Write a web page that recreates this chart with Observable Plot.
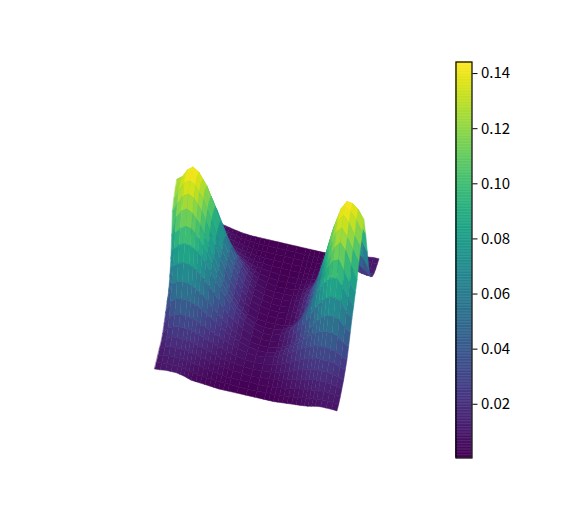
<!DOCTYPE html>
<html><head><meta charset="utf-8">
<style>html,body{margin:0;padding:0;background:#fff}#c{position:relative;width:581px;height:514px}#c svg{position:absolute;left:0;top:0;background:transparent}</style>
<script src="https://cdn.jsdelivr.net/npm/d3@7"></script>
<script src="https://cdn.jsdelivr.net/npm/@observablehq/plot@0.6"></script>
</head><body><div id="c"></div>
<script>
const sGrid=[0,.03,.06,.09,.12,.14,.16,.18,.2,.225,.25,.275,.3,.325,.35,.375,.4,.45,.5,.55,.6,.625,.65,.675,.7,.725,.75,.775,.8,.82,.84,.86,.88,.91,.94,.97,1];
const tGrid=[0,.04,.08,.12,.16,.2,.24,.28,.32,.36,.4,.44,.48,.52,.56,.6,.64,.68,.72,.76,.8,.84,.88,.92,.96,1];
const zRows=[
[.0075,.008,.009,.009,.009,.008,.007,.0055,.004,.0035,.003,.0025,.002,.0015,.001,.001,.001,.001,.001,.001,.001,.001,.001,.0015,.002,.0025,.003,.0035,.004,.0045,.005,.006,.007,.008,.008,.008,.0075],
[.008,.009,.010,.010,.010,.009,.008,.007,.006,.005,.004,.0035,.003,.0025,.002,.002,.002,.001,.001,.001,.002,.002,.002,.0025,.003,.0035,.004,.005,.006,.0065,.007,.0075,.008,.009,.009,.009,.008],
[.009,.011,.012,.012,.012,.0115,.011,.010,.009,.008,.007,.006,.005,.004,.003,.0025,.002,.002,.002,.002,.002,.0025,.003,.004,.005,.006,.007,.008,.009,.0095,.010,.011,.012,.012,.012,.011,.010],
[.0105,.014,.016,.016,.016,.0155,.015,.014,.013,.0115,.010,.0085,.007,.006,.005,.0045,.004,.003,.002,.003,.004,.0045,.005,.0065,.008,.0095,.011,.0125,.014,.015,.016,.016,.016,.016,.015,.014,.013],
[.011,.017,.021,.021,.021,.0205,.020,.0185,.017,.0155,.014,.012,.010,.0085,.007,.006,.005,.004,.003,.004,.005,.006,.007,.009,.011,.013,.015,.017,.019,.020,.021,.021,.021,.021,.020,.018,.016],
[.014,.022,.026,.027,.027,.0265,.026,.0245,.023,.0205,.018,.016,.014,.012,.010,.0085,.007,.005,.004,.005,.007,.0085,.010,.0125,.015,.0175,.020,.0225,.025,.026,.027,.027,.027,.027,.026,.023,.021],
[.019,.029,.033,.035,.035,.034,.033,.031,.029,.0265,.024,.021,.018,.0155,.013,.011,.009,.006,.005,.006,.009,.0115,.014,.017,.020,.0235,.027,.0295,.032,.0335,.035,.035,.035,.035,.033,.029,.026],
[.025,.040,.045,.047,.047,.0455,.044,.0415,.039,.035,.031,.0265,.022,.0185,.015,.0125,.010,.006,.004,.004,.007,.010,.013,.017,.021,.0255,.030,.035,.040,.0425,.045,.046,.047,.047,.045,.038,.035],
[.031,.055,.059,.061,.060,.058,.056,.0525,.049,.043,.037,.031,.025,.020,.015,.012,.009,.005,.003,.003,.005,.0075,.010,.014,.018,.0245,.031,.038,.045,.050,.055,.0575,.060,.060,.058,.050,.045],
[.036,.069,.074,.077,.076,.0735,.071,.0665,.062,.0545,.047,.039,.031,.025,.019,.015,.011,.006,.003,.003,.006,.009,.012,.0175,.023,.031,.039,.048,.057,.063,.069,.0725,.076,.076,.073,.062,.055],
[.047,.083,.090,.093,.092,.089,.086,.0805,.075,.0655,.056,.047,.038,.0305,.023,.018,.013,.007,.003,.003,.007,.0105,.014,.021,.028,.0375,.047,.058,.069,.076,.083,.0875,.092,.092,.085,.072,.063],
[.062,.096,.103,.107,.105,.100,.095,.0875,.080,.0685,.057,.0465,.036,.028,.020,.0155,.011,.005,.003,.003,.005,.008,.011,.017,.023,.033,.043,.056,.069,.0795,.090,.0975,.105,.108,.095,.083,.072],
[.083,.108,.117,.121,.117,.1105,.104,.094,.084,.0695,.055,.0435,.032,.024,.016,.0115,.007,.003,.002,.002,.002,.004,.006,.011,.016,.0255,.035,.0505,.066,.0795,.093,.1035,.114,.122,.113,.096,.080],
[.106,.118,.128,.132,.128,.121,.114,.1025,.091,.0755,.060,.0475,.035,.026,.017,.0125,.008,.004,.002,.002,.003,.0045,.006,.0115,.017,.028,.039,.0555,.072,.087,.102,.114,.126,.133,.122,.108,.094],
[.114,.126,.137,.141,.137,.129,.121,.1095,.098,.081,.064,.0505,.037,.028,.019,.0135,.008,.004,.002,.002,.003,.005,.007,.0125,.018,.0295,.041,.0585,.076,.092,.108,.1205,.133,.141,.133,.118,.106],
[.120,.130,.140,.144,.140,.1325,.125,.1125,.100,.083,.066,.052,.038,.0285,.019,.0135,.008,.004,.002,.002,.003,.005,.007,.0125,.018,.0295,.041,.059,.077,.093,.109,.122,.135,.144,.140,.130,.117],
[.123,.128,.138,.143,.138,.1305,.123,.111,.099,.082,.065,.0515,.038,.0285,.019,.0135,.008,.004,.002,.002,.003,.005,.007,.0125,.018,.029,.040,.058,.076,.092,.108,.1205,.133,.143,.142,.136,.125],
[.105,.112,.122,.125,.122,.115,.108,.0975,.087,.072,.057,.045,.033,.025,.017,.012,.007,.003,.002,.002,.002,.004,.006,.011,.016,.026,.036,.0515,.067,.081,.095,.106,.117,.125,.121,.113,.100],
[.075,.087,.095,.097,.095,.0895,.084,.076,.068,.056,.044,.035,.026,.0195,.013,.0095,.006,.003,.001,.001,.002,.0035,.005,.0085,.012,.020,.028,.040,.052,.0625,.073,.0815,.090,.097,.092,.083,.070],
[.045,.057,.062,.064,.062,.0585,.055,.0495,.044,.0365,.029,.023,.017,.013,.009,.0065,.004,.002,.001,.001,.002,.0025,.003,.0055,.008,.013,.018,.026,.034,.041,.048,.0535,.059,.063,.060,.052,.040],
[.028,.033,.036,.037,.036,.034,.032,.029,.026,.0215,.017,.0135,.010,.0075,.005,.004,.003,.002,.001,.001,.001,.0015,.002,.0035,.005,.008,.011,.0155,.020,.024,.028,.031,.034,.037,.035,.030,.024],
[.018,.019,.020,.021,.020,.019,.018,.0165,.015,.0125,.010,.008,.006,.0045,.003,.0025,.002,.001,.001,.001,.001,.0015,.002,.0025,.003,.0045,.006,.0085,.011,.013,.015,.0165,.018,.020,.018,.017,.017],
[.014,.014,.015,.015,.014,.013,.012,.0105,.009,.0075,.006,.005,.004,.003,.002,.0015,.001,.001,.001,.001,.001,.001,.001,.0015,.002,.003,.004,.0055,.007,.0085,.010,.011,.012,.014,.012,.012,.013],
[.012,.012,.012,.012,.011,.010,.009,.008,.007,.0055,.004,.003,.002,.0015,.001,.001,.001,.001,.001,.001,.001,.001,.001,.0015,.002,.0025,.003,.004,.005,.006,.007,.008,.009,.010,.009,.010,.011],
[.011,.011,.011,.011,.010,.009,.008,.007,.006,.0045,.003,.0025,.002,.0015,.001,.001,.001,.001,.001,.001,.001,.001,.001,.001,.001,.0015,.002,.003,.004,.005,.006,.0065,.007,.008,.009,.010,.010],
[.010,.010,.010,.009,.008,.007,.006,.005,.004,.003,.002,.0015,.001,.001,.001,.001,.001,.001,.001,.001,.001,.001,.001,.001,.001,.0015,.002,.003,.004,.0045,.005,.0055,.006,.007,.008,.009,.009]
];
const colorTicks=[.02,.04,.06,.08,.10,.12,.14];
const zDomain=[.0005,.1442];

// 3D view: projection of (s, t, z) to the picture plane, verticals leaning with perspective
const view={ox:155,oy:375,sx:182,sy:42,tx:42,ty:-151,zy:-805,lean:.22,vanish:362};
const baseX=(s,t)=>view.ox+view.sx*s+view.tx*t;
const baseY=(s,t)=>view.oy+view.sy*s+view.ty*t;
const px=(s,t,z)=>baseX(s,t)+view.lean*z*(baseX(s,t)-view.vanish);
const py=(s,t,z)=>baseY(s,t)+view.zy*z;

const quads=[];
for(let i=0;i<tGrid.length-1;i++)for(let j=0;j<sGrid.length-1;j++){
  const zz=[zRows[i][j],zRows[i][j+1],zRows[i+1][j],zRows[i+1][j+1]];
  const s0=sGrid[j],s1=sGrid[j+1],t0=tGrid[i],t1=tGrid[i+1];
  quads.push({
    depth:baseY((s0+s1)/2,(t0+t1)/2),
    v:d3.mean(zz),
    pts:[[px(s0,t0,zz[0]),py(s0,t0,zz[0]),px(s0,t1,zz[2]),py(s0,t1,zz[2])],
         [px(s1,t0,zz[1]),py(s1,t0,zz[1]),px(s1,t1,zz[3]),py(s1,t1,zz[3])]]
  });
}
quads.sort((a,b)=>a.depth-b.depth);
const rows=quads.flatMap((q,id)=>q.pts.map(p=>({id,v:q.v,x1:p[0],y1:p[1],x2:p[2],y2:p[3]})));

const colorOpt={type:"linear",scheme:"viridis",domain:zDomain};
const surface=Plot.plot({
  width:581,height:514,margin:0,
  x:{domain:[0,581],range:[0,581],axis:null},
  y:{domain:[0,514],range:[0,514],axis:null},
  color:colorOpt,
  marks:[Plot.area(rows,{x1:"x1",y1:"y1",x2:"x2",y2:"y2",z:"id",fill:"v",stroke:"v",strokeWidth:.5})]
});
const levels=d3.range(0,256).map(i=>zDomain[0]+(zDomain[1]-zDomain[0])*i/256);
const step=(zDomain[1]-zDomain[0])/256;
const bar=Plot.plot({
  width:581,height:514,
  marginLeft:455.5,marginRight:109.5,marginTop:61.5,marginBottom:56.5,
  style:{fontFamily:"'Noto Sans CJK SC','Noto Sans',sans-serif",fontSize:"15px",color:"#000"},
  x:{domain:[0,1],axis:null},
  y:{domain:zDomain,axis:null},
  color:colorOpt,
  marks:[
    Plot.rect(levels,{x1:0,x2:1,y1:d=>d,y2:d=>d+step,fill:d=>d,stroke:d=>d,strokeWidth:.4}),
    Plot.frame({stroke:"#000",strokeWidth:1.2}),
    Plot.axisY({anchor:"right",ticks:colorTicks,tickSize:5,tickPadding:4,tickFormat:d3.format(".2f"),label:null,stroke:"#000",strokeWidth:1,fontSize:15,fill:"#000"})
  ]
});
const c=document.getElementById("c");
c.append(surface,bar);
</script></body></html>
